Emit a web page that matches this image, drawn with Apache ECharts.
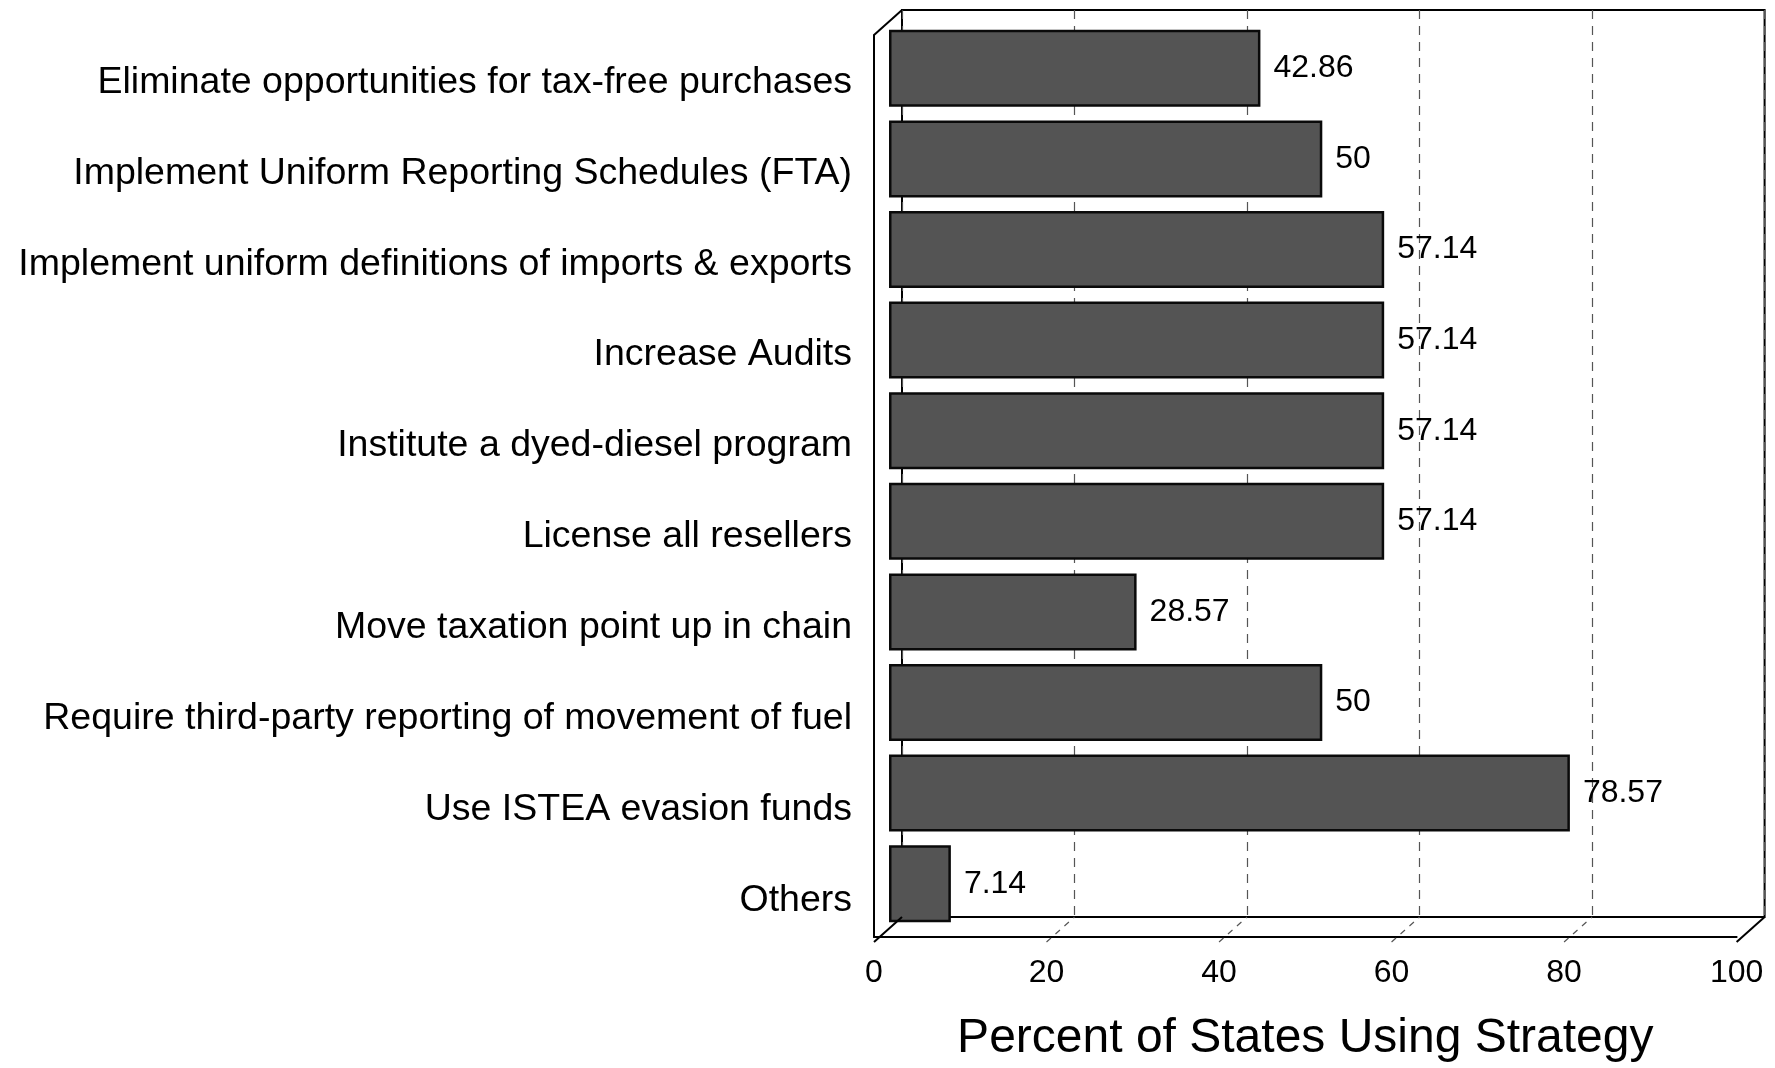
<!DOCTYPE html>
<html>
<head>
<meta charset="utf-8">
<script src="https://cdn.jsdelivr.net/npm/echarts@6/dist/echarts.min.js"></script>
<style>html,body{margin:0;padding:0;background:#fff;}#c{width:1775px;height:1068px;}</style>
</head>
<body>
<div id="c"></div>
<script>
const categories = [
  'Eliminate opportunities for tax-free purchases',
  'Implement Uniform Reporting Schedules (FTA)',
  'Implement uniform definitions of imports & exports',
  'Increase Audits',
  'Institute a dyed-diesel program',
  'License all resellers',
  'Move taxation point up in chain',
  'Require third-party reporting of movement of fuel',
  'Use ISTEA evasion funds',
  'Others'
];
const values = [42.86, 50, 57.14, 57.14, 57.14, 57.14, 28.57, 50, 78.57, 7.14];
const xTicks = [0, 20, 40, 60, 80, 100];
const axisTitle = 'Percent of States Using Strategy';

// layout
const W = 862.6;          // plot width
const DX = 28, DY = 25;   // 3D depth offset
const backLeft = 902, backTop = 10, backBottom = 917;
const frontLeft = backLeft - DX, frontBottom = backBottom + DY;
const bandTop = 23, bandH = 906;
const FONT = 'Liberation Sans, Arial, sans-serif';

const chart = echarts.init(document.getElementById('c'), null, {renderer: 'canvas'});
const xMin = xTicks[0], xMax = xTicks[xTicks.length - 1], xInt = xTicks[1] - xTicks[0];

chart.setOption({
  animation: false,
  backgroundColor: '#fff',
  grid: [
    {left: backLeft, top: backTop, width: W, height: backBottom - backTop, show: true, borderColor: '#000', borderWidth: 2, backgroundColor: 'transparent'},
    {left: backLeft - DX / 2 + 1, top: bandTop, width: W + 4, height: bandH},
    {left: frontLeft, top: 37, width: W, height: 909}
  ],
  xAxis: [
    {gridIndex: 0, type: 'value', min: xMin, max: xMax, interval: xInt,
      axisLine: {show: false}, axisTick: {show: false}, axisLabel: {show: false},
      splitLine: {show: true, lineStyle: {color: '#555', width: 1.2, type: [9, 7]}}},
    {gridIndex: 1, type: 'value', min: xMin, max: xMax, show: false},
    {gridIndex: 2, type: 'value', min: xMin, max: xMax, interval: xInt, show: false},
    {gridIndex: 0, type: 'value', min: xMin, max: xMax, interval: xInt, show: false}
  ],
  yAxis: [
    {gridIndex: 0, type: 'value', show: false},
    {gridIndex: 1, type: 'category', data: categories, inverse: true, show: false},
    {gridIndex: 2, type: 'category', data: categories, inverse: true,
      axisLine: {show: false}, axisTick: {show: false},
      splitLine: {show: false},
      axisLabel: {color: '#000', fontSize: 37.5, fontFamily: FONT, margin: 22}}
  ],
  series: [{
    type: 'bar', xAxisIndex: 1, yAxisIndex: 1, data: values, barWidth: 77,
    itemStyle: {color: '#545454', borderColor: '#0a0a0a', borderWidth: 2.5},
    label: {show: true, position: 'right', distance: 13, color: '#000', fontSize: 32, fontFamily: FONT}
  }]
});

// front-face x axis on its own grid aligned to the 3D front face
chart.setOption({
  grid: [
    {left: backLeft, top: backTop, width: W, height: backBottom - backTop, show: true, borderColor: '#000', borderWidth: 2, backgroundColor: 'transparent'},
    {left: backLeft - DX / 2 + 1, top: bandTop, width: W + 4, height: bandH},
    {left: frontLeft, top: 37, width: W, height: 909},
    {left: frontLeft, top: backTop + DY, width: W, height: frontBottom - backTop - DY}
  ],
  xAxis: [
    {}, {}, {},
    {gridIndex: 3, type: 'value', min: xMin, max: xMax, interval: xInt, show: true,
      axisLine: {show: true, lineStyle: {color: '#000', width: 2}}, axisTick: {show: false},
      splitLine: {show: false},
      axisLabel: {show: true, color: '#000', fontSize: 32, fontFamily: FONT, margin: 20},
      name: axisTitle, nameLocation: 'middle', nameGap: 78,
      nameTextStyle: {color: '#000', fontSize: 48, fontFamily: FONT}}
  ],
  yAxis: [
    {}, {}, {},
    {gridIndex: 3, type: 'value', show: true, axisLine: {show: true, lineStyle: {color: '#000', width: 2}},
      axisTick: {show: false}, axisLabel: {show: false}, splitLine: {show: false}}
  ]
});

// 3D frame decorations derived from axis scales
const els = [];
const line = (x1, y1, x2, y2, style) => els.push({type: 'line', shape: {x1, y1, x2, y2}, style: Object.assign({stroke: '#000', lineWidth: 2}, style || {}), z: 10});
const bx0 = chart.convertToPixel({xAxisIndex: 0}, xMin);
const bx1 = chart.convertToPixel({xAxisIndex: 0}, xMax);
const fx0 = chart.convertToPixel({xAxisIndex: 3}, xMin);
const fx1 = chart.convertToPixel({xAxisIndex: 3}, xMax);
line(fx0, backTop + DY, bx0, backTop);
line(fx0, frontBottom, bx0, backBottom);
line(fx1, frontBottom, bx1, backBottom);
xTicks.slice(1, -1).forEach(t => {
  const b = chart.convertToPixel({xAxisIndex: 0}, t);
  const f = chart.convertToPixel({xAxisIndex: 3}, t);
  line(f, frontBottom, b, backBottom, {stroke: '#555', lineWidth: 1.2, lineDash: [6, 6]});
});
chart.setOption({graphic: els});
</script>
</body>
</html>
